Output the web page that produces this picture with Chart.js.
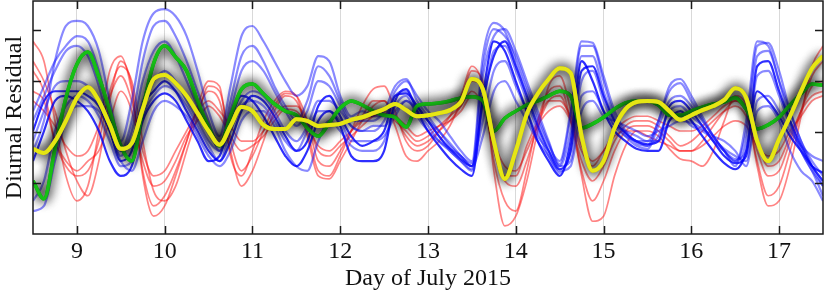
<!DOCTYPE html>
<html>
<head>
<meta charset="utf-8">
<script src="https://cdn.jsdelivr.net/npm/chart.js@4.4.1/dist/chart.umd.min.js"></script>
<style>
  html, body { margin: 0; padding: 0; background: #fff; }
  #wrap { width: 825px; height: 293px; }
</style>
</head>
<body>
<div id="wrap"><canvas id="residualChart"></canvas></div>
<script>
// ===== data: sampled every 3 hours, July 8.5 .. 17.5 =====
const DAYS = [8.5,8.625,8.75,8.875,9,9.125,9.25,9.375,9.5,9.625,9.75,9.875,10,10.125,10.25,10.375,10.5,10.625,10.75,10.875,11,11.125,11.25,11.375,11.5,11.625,11.75,11.875,12,12.125,12.25,12.375,12.5,12.625,12.75,12.875,13,13.125,13.25,13.375,13.5,13.625,13.75,13.875,14,14.125,14.25,14.375,14.5,14.625,14.75,14.875,15,15.125,15.25,15.375,15.5,15.625,15.75,15.875,16,16.125,16.25,16.375,16.5,16.625,16.75,16.875,17,17.125,17.25,17.375,17.5];
const DAY_TICKS = [9, 10, 11, 12, 13, 14, 15, 16, 17];
const RESID_TICKS = [-1, 0, 1, 2];

// blue sensor runs
const BLUE_1 = [-0.37,0.22,1.39,2.08,2.18,2.08,1.59,0.61,-0.18,0.61,1.78,2.33,2.41,2.27,1.88,1.20,0.41,-0.08,0.90,1.88,2.08,1.78,1.39,1.00,0.71,0.90,1.49,1.39,0.71,0.31,0.41,0.31,0.31,0.80,1.00,0.71,0.41,0.22,-0.08,-0.37,-0.57,1.49,2.14,1.98,1.39,0.80,0.22,-0.27,-0.57,0.41,1.78,1.75,1.10,0.41,0.02,-0.18,-0.18,0.22,0.90,1.04,0.71,0.31,-0.08,-0.37,-0.67,0.22,1.78,1.69,1.00,0.22,-0.37,-0.76,-1.06];
const BLUE_2 = [0.22,0.71,1.20,1.59,1.69,1.49,0.90,0.12,-0.47,0.02,1.00,1.59,1.78,1.49,1.00,0.51,0.12,-0.37,0.41,1.20,1.39,1.20,0.80,0.41,0.12,0.41,1.00,0.90,0.51,0.12,0.02,0.02,0.22,0.71,0.80,0.51,0.22,-0.08,-0.37,-0.57,-0.73,1.10,1.88,2.02,1.59,1.00,0.41,-0.18,-0.67,0.02,1.49,1.49,0.80,0.22,-0.08,-0.27,-0.33,0.12,0.61,0.71,0.51,0.22,-0.08,-0.37,-0.57,-0.18,1.49,1.59,1.00,0.41,-0.18,-0.57,-0.86];
const BLUE_3 = [-0.18,0.41,0.90,1.00,1.00,0.90,0.61,0.22,-0.37,-0.18,0.61,1.00,1.20,1.00,0.61,0.22,-0.18,-0.37,0.12,0.61,0.80,0.71,0.41,0.02,-0.18,0.12,0.61,0.61,0.41,0.12,0.02,0.12,0.12,0.41,0.61,0.41,0.12,-0.18,-0.37,-0.57,-0.76,0.51,1.59,1.69,1.20,0.61,0.02,-0.47,-0.80,-0.37,1.00,1.20,0.61,0.12,-0.08,-0.18,-0.27,-0.08,0.41,0.51,0.31,0.12,-0.18,-0.37,-0.53,-0.37,1.10,1.20,0.71,0.12,-0.37,-0.76,-1.25];
const BLUE_4 = [-0.57,0.02,0.61,0.71,0.61,0.41,0.02,-0.57,-0.86,-0.67,0.22,0.61,0.76,0.61,0.22,-0.18,-0.57,-0.47,0.22,0.71,0.61,0.31,-0.08,-0.47,-0.67,-0.37,0.22,0.41,0.12,-0.47,-0.57,-0.57,-0.37,0.61,0.84,0.41,0.02,-0.27,-0.53,-0.73,-0.86,0.71,1.78,1.59,1.00,0.41,-0.18,-0.57,-0.86,-0.18,1.39,1.00,0.41,0.02,-0.18,-0.33,-0.37,-0.37,0.22,0.41,0.22,-0.08,-0.37,-0.61,-0.73,-0.37,0.80,0.61,0.31,-0.08,-0.37,-0.67,-0.80];
const BLUE_5 = [-1.35,-0.96,0.02,0.51,0.71,0.61,0.31,-0.18,-0.67,-0.57,0.31,0.71,0.90,0.80,0.51,0.12,-0.27,-0.57,0.02,0.51,0.61,0.51,0.22,-0.18,-0.37,0.02,0.41,0.41,0.22,-0.18,-0.18,-0.18,-0.08,0.31,0.61,0.45,0.22,0.02,-0.27,-0.47,-0.61,0.22,1.20,1.39,0.90,0.41,-0.08,-0.37,-0.67,-0.57,0.71,0.80,0.41,0.12,0.02,-0.08,-0.18,-0.18,0.22,0.31,0.12,0.02,-0.14,-0.33,-0.47,-0.57,0.61,0.71,0.41,0.02,-0.27,-0.47,-0.57];
const BLUE_6 = [-1.55,-1.45,-0.57,0.22,0.51,0.51,0.41,0.02,-0.57,-0.76,-0.18,0.41,0.61,0.51,0.31,-0.08,-0.47,-0.67,-0.37,0.22,0.41,0.41,0.12,-0.37,-0.67,-0.76,-0.18,0.22,0.02,-0.27,-0.37,-0.37,-0.18,0.51,0.71,0.31,0.02,-0.18,-0.33,-0.47,-0.67,-0.08,0.80,1.00,0.61,0.22,-0.18,-0.47,-0.76,-0.67,0.41,0.61,0.31,0.22,0.12,0.02,-0.08,0.02,0.12,0.22,0.18,0.06,-0.08,-0.18,-0.37,-0.67,0.41,0.51,0.22,-0.37,-0.76,-0.96,-1.35];
const BLUE_7 = [0.02,0.61,0.80,0.80,0.80,0.71,0.51,0.02,-0.57,-0.37,0.51,0.80,1.00,0.80,0.41,0.02,-0.37,-0.57,-0.18,0.41,0.71,0.61,0.31,-0.08,-0.37,-0.18,0.51,0.71,0.31,-0.08,-0.27,-0.18,0.02,0.71,0.76,0.51,0.22,-0.08,-0.33,-0.53,-0.67,0.61,1.49,1.78,1.29,0.71,0.12,-0.37,-0.73,-0.37,1.20,1.29,0.71,0.22,-0.02,-0.18,-0.24,-0.18,0.51,0.61,0.41,0.12,-0.18,-0.47,-0.61,-0.47,1.29,1.39,0.80,0.22,-0.27,-0.67,-0.96];
const BLUE_8 = [0.41,0.90,1.39,1.69,1.88,1.78,1.20,0.31,-0.37,0.22,1.39,2.08,2.18,1.88,1.39,0.80,0.22,-0.27,0.61,1.49,1.69,1.39,0.90,0.51,0.22,0.61,1.29,1.10,0.61,0.22,0.22,0.22,0.41,0.90,1.04,0.61,0.31,0.02,-0.22,-0.47,-0.67,1.29,2.02,1.88,1.49,0.90,0.31,-0.22,-0.63,0.31,1.69,1.69,1.00,0.31,-0.02,-0.22,-0.27,0.22,0.80,0.96,0.61,0.25,-0.08,-0.37,-0.57,0.02,1.69,1.75,1.20,0.41,-0.18,-0.67,-1.06];

// red sensor runs
const RED_1 = [1.78,1.39,0.22,-0.86,-1.35,-1.06,0.02,1.20,1.49,0.80,-0.76,-1.45,-1.25,-0.76,-0.18,0.41,0.80,0.61,-0.37,-1.06,-0.76,-0.18,0.41,0.71,0.61,0.02,-0.76,-0.86,-0.47,0.02,0.51,0.84,0.90,0.41,-0.18,-0.37,-0.27,0.02,0.31,0.71,1.29,0.90,-0.57,-1.35,-1.55,-0.76,0.22,0.80,0.90,0.22,-0.76,-1.35,-0.96,-0.37,0.02,0.12,0.12,0.02,-0.18,-0.37,-0.37,-0.18,0.12,0.41,0.61,0.41,-0.57,-1.25,-1.06,-0.37,0.41,1.10,1.39];
const RED_2 = [1.20,0.80,-0.18,-0.67,-0.86,-0.76,-0.18,0.80,1.29,1.00,-0.18,-1.16,-1.35,-1.06,-0.37,0.31,0.90,0.80,-0.18,-0.76,-0.47,0.02,0.51,0.76,0.71,0.22,-0.57,-0.67,-0.37,0.02,0.31,0.61,0.61,0.31,-0.08,-0.27,-0.18,0.02,0.22,0.51,1.00,0.80,-0.37,-0.96,-1.06,-0.57,0.12,0.61,0.71,0.22,-0.57,-0.96,-0.67,-0.18,0.12,0.22,0.22,0.12,-0.08,-0.27,-0.18,0.02,0.22,0.41,0.51,0.31,-0.37,-0.86,-0.76,-0.18,0.41,0.90,1.00];
const RED_3 = [0.61,0.41,0.12,-0.27,-0.47,-0.37,0.12,0.71,1.10,0.61,-0.37,-0.86,-0.76,-0.37,0.02,0.41,0.61,0.41,0.12,-0.18,-0.18,0.02,0.31,0.51,0.51,0.22,-0.37,-0.47,-0.27,-0.08,0.12,0.31,0.41,0.31,0.12,-0.08,0.02,0.12,0.22,0.41,0.71,0.61,-0.18,-0.67,-0.76,-0.37,0.12,0.41,0.51,0.22,-0.37,-0.67,-0.37,-0.08,0.02,0.02,-0.08,-0.18,-0.27,-0.37,-0.37,-0.27,-0.08,0.12,0.22,0.12,-0.27,-0.47,-0.37,0.02,0.31,0.61,0.71];
const RED_4 = [1.39,1.00,0.41,-0.37,-0.96,-1.25,-0.57,0.61,1.39,0.90,-0.86,-1.65,-1.45,-0.86,-0.18,0.51,1.00,0.90,-0.47,-0.86,-0.37,0.22,0.61,0.80,0.71,-0.08,-0.86,-0.92,-0.57,-0.18,0.22,0.51,0.61,0.12,-0.47,-0.57,-0.37,-0.18,0.12,0.61,1.20,1.00,-0.76,-1.84,-1.65,-0.96,0.02,0.90,1.10,0.41,-0.86,-1.75,-1.65,-0.86,-0.27,0.02,0.02,-0.08,-0.33,-0.53,-0.57,-0.67,-0.37,0.22,0.71,0.51,-0.67,-1.45,-1.35,-0.67,0.31,1.29,1.69];
const RED_5 = [0.80,0.61,-0.18,-0.57,-0.76,-0.57,-0.37,0.22,0.80,0.41,-0.57,-1.06,-0.96,-0.57,-0.08,0.22,0.51,0.31,-0.08,-0.37,-0.27,-0.08,0.22,0.45,0.41,0.12,-0.27,-0.37,-0.18,0.02,0.22,0.31,0.37,0.22,0.02,-0.18,-0.08,0.12,0.31,0.51,0.80,0.51,-0.27,-0.86,-0.86,-0.27,0.22,0.61,0.61,0.31,-0.27,-0.57,-0.37,0.02,0.22,0.31,0.31,0.22,0.12,0.02,0.02,0.12,0.31,0.51,0.61,0.41,-0.18,-0.67,-0.57,-0.08,0.41,0.71,0.80];

// the two summary curves
const GREEN_MEAN = [-0.96,-1.31,-0.33,0.67,1.33,1.57,1.08,0.41,-0.27,-0.57,0.45,1.35,1.69,1.47,1.20,0.61,0.10,-0.27,0.31,0.84,0.94,0.75,0.55,0.41,0.33,0.08,-0.08,0.18,0.47,0.61,0.53,0.41,0.33,0.29,0.10,0.51,0.55,0.57,0.61,0.67,0.69,0.61,0.02,0.27,0.41,0.53,0.61,0.71,0.80,0.71,0.08,0.16,0.29,0.45,0.57,0.61,0.61,0.53,0.33,0.33,0.41,0.49,0.55,0.59,0.67,0.45,0.06,0.14,0.29,0.53,0.75,0.94,0.92];
const YELLOW_MEAN = [-0.33,-0.41,-0.18,0.22,0.67,0.88,0.61,0.14,-0.33,-0.22,0.45,1.04,1.12,0.96,0.71,0.37,0.02,-0.25,0.12,0.49,0.41,0.14,0.06,0.06,0.25,0.22,0.12,0.14,0.16,0.24,0.29,0.37,0.45,0.55,0.43,0.31,0.33,0.37,0.43,0.59,1.04,0.84,-0.18,-0.92,-0.37,0.35,0.75,1.04,1.25,1.16,-0.08,-0.76,-0.57,0.08,0.45,0.59,0.61,0.59,0.41,0.24,0.33,0.43,0.51,0.63,0.86,0.67,-0.18,-0.57,-0.14,0.31,0.80,1.25,1.49];

const BLUE_RUNS = [BLUE_1, BLUE_2, BLUE_3, BLUE_4, BLUE_5, BLUE_6, BLUE_7, BLUE_8];
const RED_RUNS = [RED_1, RED_2, RED_3, RED_4, RED_5];

const SERIF = "'Liberation Serif', 'DejaVu Serif', serif";

function toPoints(ys) {
    return ys.map((y, i) => ({ x: DAYS[i], y: y }));
}

function runDataset(ys, color, width, order) {
    return {
        data: toPoints(ys),
        borderColor: color,
        borderWidth: width,
        pointRadius: 0,
        cubicInterpolationMode: 'monotone',
        fill: false,
        order: order
    };
}

const datasets = [];
RED_RUNS.forEach(r => datasets.push(runDataset(r, 'rgba(255, 20, 20, 0.52)', 1.7, 4)));
BLUE_RUNS.forEach((b, i) => {
    const strong = (i === 3 || i === 6);
    datasets.push(runDataset(b, strong ? 'rgba(0, 0, 255, 0.82)' : 'rgba(20, 20, 255, 0.5)', 2.2, 3));
});
const green = runDataset(GREEN_MEAN, '#16c016', 3.5, 2);
green.glow = true;
const yellow = runDataset(YELLOW_MEAN, '#e6e614', 4, 1);
yellow.glow = true;
datasets.push(green, yellow);

// dark halo round the summary curves: one extra shadowed pass, then the normal one
const glowPlugin = {
    id: 'glow',
    beforeDatasetDraw(chart, args) {
        if (!chart.data.datasets[args.index].glow) return;
        const ctx = chart.ctx;
        const a = chart.chartArea;
        ctx.save();
        ctx.beginPath();
        ctx.rect(a.left, a.top, a.right - a.left, a.bottom - a.top);
        ctx.clip();
        ctx.shadowColor = 'rgba(0, 0, 0, 1)';
        ctx.shadowBlur = 12;
        args.meta.dataset.draw(ctx, a);
    },
    afterDatasetDraw(chart, args) {
        if (chart.data.datasets[args.index].glow) chart.ctx.restore();
    }
};

// box with inward ticks on all four sides
const framePlugin = {
    id: 'frame',
    afterDatasetsDraw(chart) {
        const { ctx, chartArea: a, scales: { x, y } } = chart;
        ctx.save();
        ctx.strokeStyle = '#1a1a1a';
        ctx.lineWidth = 1.5;
        ctx.beginPath();
        DAY_TICKS.forEach(d => {
            const px = Math.round(x.getPixelForValue(d)) + 0.5;
            ctx.moveTo(px, a.bottom); ctx.lineTo(px, a.bottom - 8);
            ctx.moveTo(px, a.top); ctx.lineTo(px, a.top + 8);
        });
        RESID_TICKS.forEach(v => {
            const py = Math.round(y.getPixelForValue(v)) + 0.5;
            ctx.moveTo(a.left, py); ctx.lineTo(a.left + 8, py);
            ctx.moveTo(a.right, py); ctx.lineTo(a.right - 8, py);
        });
        ctx.stroke();
        ctx.strokeRect(a.left, a.top, a.right - a.left, a.bottom - a.top);
        ctx.restore();
    }
};

new Chart(document.getElementById('residualChart'), {
    type: 'line',
    data: { datasets: datasets },
    plugins: [glowPlugin, framePlugin],
    options: {
        responsive: true,
        maintainAspectRatio: false,
        animation: false,
        devicePixelRatio: 1,
        layout: { padding: { left: 0, right: 2, top: 1, bottom: 0 } },
        plugins: { legend: { display: false }, tooltip: { enabled: false } },
        scales: {
            x: {
                type: 'linear',
                min: 8.5,
                max: 17.5,
                afterBuildTicks: s => { s.ticks = DAY_TICKS.map(v => ({ value: v })); },
                afterFit: s => { s.height = 59; },
                grid: { color: '#d9d9d9', lineWidth: 1, drawTicks: false },
                border: { display: false },
                ticks: { color: '#111', font: { family: SERIF, size: 24 }, padding: 3, maxRotation: 0 },
                title: {
                    display: true,
                    text: 'Day of July 2015',
                    color: '#111',
                    font: { family: SERIF, size: 24 },
                    padding: { top: 0, bottom: 0 }
                }
            },
            y: {
                type: 'linear',
                min: -2,
                max: 2.57,
                afterFit: s => { s.width = 33; },
                grid: { display: false },
                border: { display: false },
                ticks: { display: false },
                title: {
                    display: true,
                    text: 'Diurnal Residual',
                    color: '#111',
                    font: { family: SERIF, size: 24 },
                    padding: 0
                }
            }
        }
    }
});
</script>
</body>
</html>
